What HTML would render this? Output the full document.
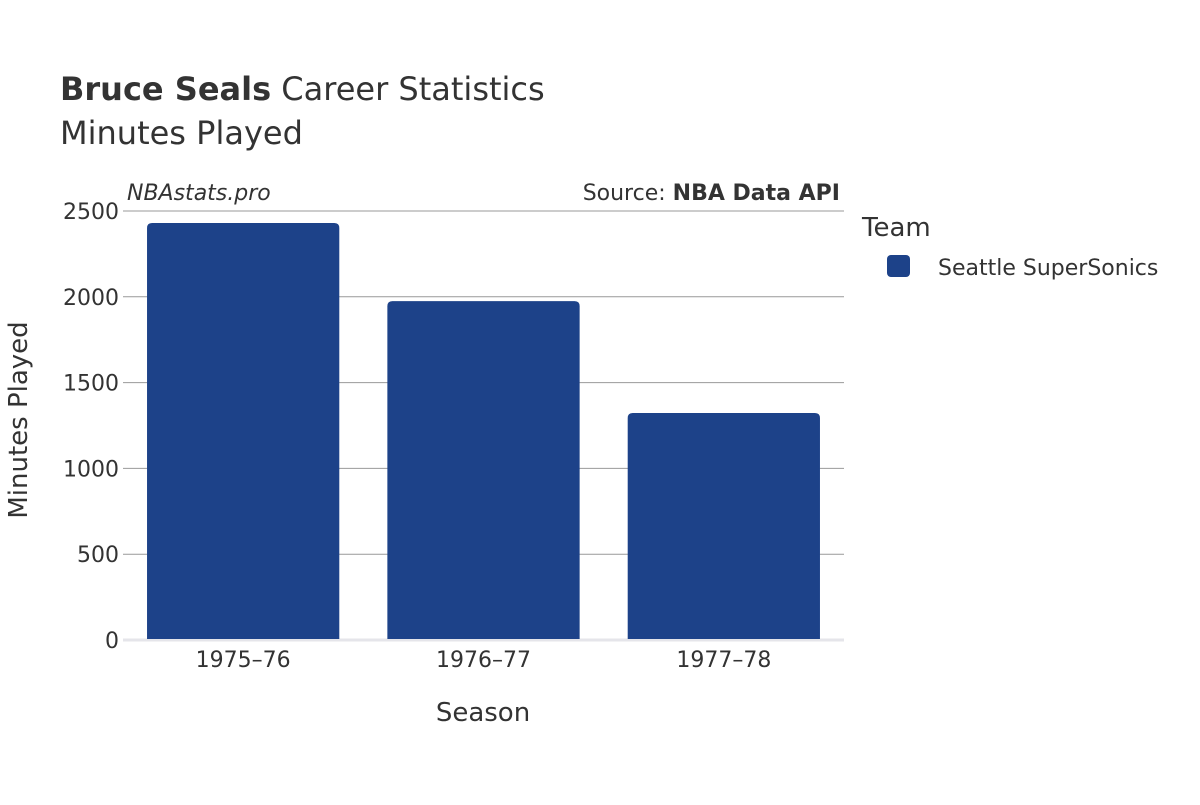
<!DOCTYPE html>
<html><head><meta charset="utf-8"><style>
body{margin:0;background:#fff;}
svg text{font-family:"DejaVu Sans","Liberation Sans",sans-serif;fill:#333;}
</style></head><body>
<svg width="1200" height="800" xmlns="http://www.w3.org/2000/svg">
<text x="60" y="100" font-size="32"><tspan font-weight="bold">Bruce Seals</tspan> Career Statistics</text>
<text x="60" y="144" font-size="32">Minutes Played</text>
<text x="127" y="200" font-size="22" font-style="italic">NBAstats.pro</text>
<text x="840" y="200" font-size="22" text-anchor="end">Source: <tspan font-weight="bold">NBA Data API</tspan></text>
<g id="grid"></g>
<g id="bars"></g>
<g id="xt"></g>
<text x="483" y="721" font-size="26" text-anchor="middle">Season</text>
<text transform="translate(27,420) rotate(-90)" font-size="26" text-anchor="middle">Minutes Played</text>
<text x="862" y="236" font-size="26">Team</text>
<rect x="887" y="255" width="23" height="22" rx="4" fill="#1d4289"/>
<text x="938" y="275" font-size="22">Seattle SuperSonics</text>
</svg>
<script>
const categories=["1975–76","1976–77","1977–78"];
const minutes=[2430,1975,1323];
const yTicks=[0,500,1000,1500,2000,2500];
const ns="http://www.w3.org/2000/svg";
const x0=123,x1=844,yb=640,yt=211,ymax=2500;
const y=v=>yb-(v/ymax)*(yb-yt);
const band=(x1-x0)/categories.length;
const g=document.getElementById('grid');
yTicks.forEach(t=>{
 const l=document.createElementNS(ns,'line');
 
 
 l.setAttribute('x1',x0);l.setAttribute('x2',x1);l.setAttribute('y1',y(t));l.setAttribute('y2',y(t));
 l.setAttribute('stroke',t===0?'#e5e5ea':'#999');l.setAttribute('stroke-width',t===0?3:1);
 g.appendChild(l);
 const tx=document.createElementNS(ns,'text');
 
 
 tx.setAttribute('x',x0-4);tx.setAttribute('y',y(t)+8);tx.setAttribute('font-size','22');tx.setAttribute('text-anchor','end');
 tx.textContent=t;g.appendChild(tx);
});
const b=document.getElementById('bars');
categories.forEach((c,i)=>{
 const bw=band*0.8,bx=x0+band*i+band*0.1;
 const r=document.createElementNS(ns,'path');
 
 
 const top=y(minutes[i]),rr=5;
 r.setAttribute('d',`M${bx},${yb-1}V${top+rr}Q${bx},${top} ${bx+rr},${top}H${bx+bw-rr}Q${bx+bw},${top} ${bx+bw},${top+rr}V${yb-1}Z`);
 r.setAttribute('fill','#1d4289');
 b.appendChild(r);
 const tx=document.createElementNS(ns,'text');
 
 
 tx.setAttribute('x',bx+bw/2);tx.setAttribute('y',667);tx.setAttribute('font-size','22');tx.setAttribute('text-anchor','middle');
 tx.textContent=c;document.getElementById('xt').appendChild(tx);
});
</script>
</body></html>
